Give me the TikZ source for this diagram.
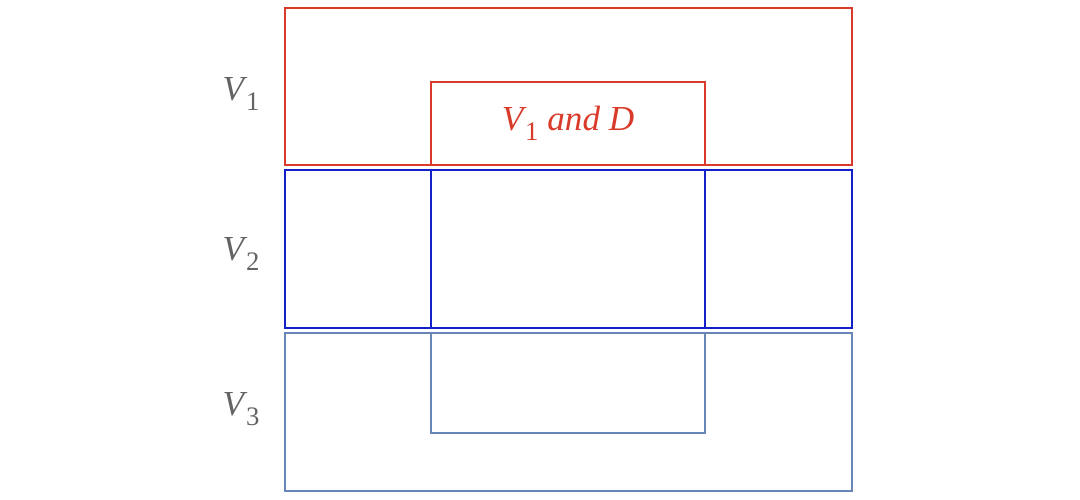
\documentclass[tikz,border=0pt]{standalone}
\usepackage{fontspec}
\setmainfont{Liberation Serif}
\usetikzlibrary{positioning}
\definecolor{vred}{RGB}{218,58,42}
\definecolor{vblue}{RGB}{20,32,200}
\definecolor{vpale}{RGB}{106,133,184}
\definecolor{vgray}{RGB}{100,100,100}
\newcommand{\vsub}[1]{\textit{V}\kern-1pt\raisebox{-7pt}{\fontsize{19}{19}\selectfont #1}}

\begin{document}
\begin{tikzpicture}[x=0.025cm,y=-0.025cm,line width=1.6pt,
		lab/.style={text=vgray,font=\fontsize{25}{30}\selectfont}]
			\useasboundingbox (0,0) rectangle (1080,500);
			\draw[vred] (285,8) rectangle (852,165);
			\draw[vred] (431,82) rectangle (705,165);
			\draw[vblue] (285,170) rectangle (852,328);
			\draw[vblue] (431,170) rectangle (705,328);
			\draw[vpale] (285,333) rectangle (852,491);
			\draw[vpale] (431,333) rectangle (705,433);
			\node[lab] (v1) at (241,94) {\vsub{1}};
			\node[lab] (v2) at (241,254) {\vsub{2}};
			\node[lab] (v3) at (241,409) {\vsub{3}};
			\node[lab,text=vred] (v1d) at (568,123) {\vsub{1} \textit{and D}};
		\end{tikzpicture}
\end{document}
